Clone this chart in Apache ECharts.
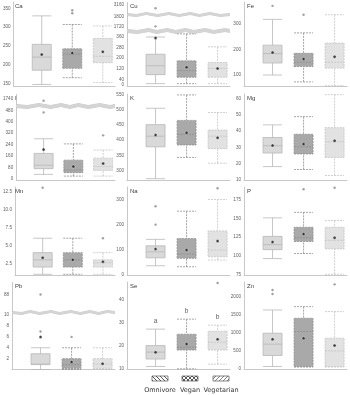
<!DOCTYPE html>
<html>
<head>
<meta charset="utf-8">
<script src="https://cdn.jsdelivr.net/npm/echarts@6.0.0/dist/echarts.min.js"></script>
<style>
  html, body { margin: 0; padding: 0; background: #fff; }
  #chart { width: 350px; height: 395px; }
</style>
</head>
<body>
<div id="chart"></div>
<script>
const groups = ['Omnivore', 'Vegan', 'Vegetarian'];

// box values: [min, Q1, median, Q3, max] for Omnivore, Vegan, Vegetarian
// outliers: [group (1..3), value]
const caBox = [[147, 185, 220, 254, 330], [165, 190, 228, 242, 307], [152, 205, 222, 270, 303]];
const caMean = [227, 231, 234];
const caOut = [[2, 345], [2, 337]];
const caTicks = [150, 200, 250, 300, 350];

const cuBox = [[11, 78, 144, 229, 357], [11, 59, 108, 180, 380], [11, 59, 124, 168, 284]];
const cuMean = [350, 132, 124];
const cuOut = [[1, 3134], [1, 1725]];
const cuTicks = [0, 40, 120, 200, 280, 360, 1720, 1800, 3160];

const feBox = [[100, 147, 184, 217, 318], [73, 133, 150, 185, 265], [58, 127, 150, 225, 336]];
const feMean = [188, 163, 172];
const feOut = [[1, 371], [2, 336]];
const feTicks = [100, 200, 300];

const iBox = [[31, 71, 95, 178, 281], [19, 43, 62, 131, 245], [19, 59, 86, 145, 202]];
const iMean = [205, 86, 107];
const iOut = [[1, 1728], [1, 466], [3, 305]];
const iTicks = [0, 80, 160, 240, 320, 400, 480, 1740];

const kBox = [[273, 378, 413, 451, 505], [343, 384, 419, 465, 549], [324, 372, 413, 433, 491]];
const kMean = [417, 424, 408];
const kOut = [];
const kTicks = [300, 350, 400, 450, 500, 550];

const mgBox = [[18.1, 26.5, 31, 36.1, 43.9], [16.3, 25.9, 30.4, 38.1, 49], [12.6, 23.8, 33.5, 42.2, 62.6]];
const mgMean = [31.2, 32, 34.1];
const mgOut = [];
const mgTicks = [10, 20, 30, 40, 50, 60];

const mnBox = [[1, 2, 3, 4, 6], [1, 2, 3, 4, 6], [1, 2, 2.6, 3, 4]];
const mnMean = [3.3, 3, 2.75];
const mnOut = [[1, 13], [3, 6]];
const mnTicks = [2.5, 5, 7.5, 10, 12.5];

const naBox = [[34, 66, 90, 114, 140], [30, 64, 81, 143, 253], [57, 70, 97, 174, 300]];
const naMean = [101, 97, 133];
const naOut = [[1, 273], [1, 199], [3, 345]];
const naTicks = [0, 100, 200, 300];

const pBox = [[96, 108, 114.7, 125.8, 150.6], [102.8, 119, 124, 138, 158], [75, 109, 120.5, 138, 147]];
const pMean = [118.2, 129, 124];
const pOut = [[2, 189], [3, 191]];
const pTicks = [75, 100, 125, 150, 175];

const pbBox = [[0, 0.9, 1, 2.9, 4], [0, 0.2, 0.9, 2, 4], [0, 0.2, 1, 2, 4]];
const pbMean = [6, 1.4, 1.08];
const pbOut = [[1, 88], [1, 7], [2, 6]];
const pbTicks = [2, 4, 6, 8, 10, 88];

const seBox = [[11.1, 14.3, 17.3, 20.1, 27.2], [10.1, 18.2, 19.4, 25, 31.5], [12.1, 18.2, 21.5, 26.3, 28.9]];
const seMean = [17.2, 20.8, 22.8];
const seOut = [[3, 47.1]];
const seTicks = [10, 20, 30, 40];
const seLetters = ['a', 'b', 'b'];

const znBox = [[74, 376, 687, 989, 1629], [64, 64, 1035, 1401, 1722], [64, 64, 503, 852, 1585]];
const znMean = [824, 852, 651];
const znOut = [[1, 2178], [1, 2068], [3, 2335]];
const znTicks = [0, 500, 1000, 1500, 2000];

const panels = [
  { name: 'Ca', box: caBox, mean: caMean, out: caOut, ticks: caTicks, min: 141.5, max: 367 },
  { name: 'Cu', box: cuBox, mean: cuMean, out: cuOut, ticks: cuTicks, min: -10, max: 3180,
    breaks: [{ start: 395, end: 1700 }, { start: 1805, end: 3095 }] },
  { name: 'Fe', box: feBox, mean: feMean, out: feOut, ticks: feTicks, min: 55, max: 386 },
  { name: 'I', box: iBox, mean: iMean, out: iOut, ticks: iTicks, min: -12, max: 1775,
    breaks: [{ start: 505, end: 1700 }] },
  { name: 'K', box: kBox, mean: kMean, out: kOut, ticks: kTicks, min: 267, max: 552 },
  { name: 'Mg', box: mgBox, mean: mgMean, out: mgOut, ticks: mgTicks, min: 9.5, max: 63 },
  { name: 'Mn', box: mnBox, mean: mnMean, out: mnOut, ticks: mnTicks, min: 0.9, max: 13.1, dec: 1 },
  { name: 'Na', box: naBox, mean: naMean, out: naOut, ticks: naTicks, min: -3, max: 350 },
  { name: 'P', box: pBox, mean: pMean, out: pOut, ticks: pTicks, min: 74, max: 192 },
  { name: 'Pb', box: pbBox, mean: pbMean, out: pbOut, ticks: pbTicks, min: 0, max: 90.3,
    breaks: [{ start: 10.4, end: 85 }] },
  { name: 'Se', box: seBox, mean: seMean, out: seOut, ticks: seTicks, min: 9.8, max: 47.5, letters: seLetters },
  { name: 'Zn', box: znBox, mean: znMean, out: znOut, ticks: znTicks, min: -10, max: 2400 }
];

const colLeft = [12, 127, 244];
const rowTop = [2, 94, 187, 282];
const rowBottom = [86.5, 180.5, 275, 369.5];
const plotW = 103;

const boxStyles = [
  { color: '#d9d9d9', borderColor: '#b8b8b8', borderWidth: 0.8 },
  { color: '#a9a9a9', borderColor: '#8e8e8e', borderWidth: 0.8, borderType: [2, 1] },
  { color: '#e2e2e2', borderColor: '#c4c4c4', borderWidth: 0.8, borderType: [2, 1] }
];

const grids = [], xAxes = [], yAxes = [], series = [], titles = [];

panels.forEach(function (p, i) {
  const col = i % 3, row = Math.floor(i / 3);
  grids.push({ left: colLeft[col], top: rowTop[row], width: plotW, height: rowBottom[row] - rowTop[row] });
  xAxes.push({
    gridIndex: i, type: 'value', min: 0.08, max: 3.4,
    axisLine: { show: true, onZero: false, lineStyle: { color: '#c8c8c8', width: 1 } },
    axisTick: { show: false }, axisLabel: { show: false }, splitLine: { show: false }
  });
  const y = {
    gridIndex: i, type: 'value', min: p.min, max: p.max,
    axisLine: { show: true, lineStyle: { color: '#c8c8c8', width: 1 } },
    axisTick: { show: false },
    splitLine: { show: false },
    axisLabel: {
      customValues: p.ticks, fontSize: 4.6, color: '#606060', margin: 3,
      fontFamily: 'Liberation Sans, Arial, sans-serif',
      formatter: function (v) { return p.dec ? v.toFixed(p.dec) : String(v); }
    }
  };
  if (p.breaks) {
    y.breaks = p.breaks.map(function (b) { return { start: b.start, end: b.end, gap: '2.5%' }; });
    y.breakArea = {
      show: true, expandOnClick: false,
      zigzagAmplitude: 1, zigzagMinSpan: 8, zigzagMaxSpan: 12,
      itemStyle: { color: '#d4d4d4', borderColor: '#a9a9a9', borderWidth: 0.6, borderType: 'solid', opacity: 1 }
    };
  }
  yAxes.push(y);

  titles.push({
    text: p.name, left: colLeft[col] + 3, top: rowTop[row] + 1, padding: 0,
    textStyle: { fontSize: 6, fontWeight: 'normal', color: '#404040', fontFamily: 'Liberation Sans, Arial, sans-serif' }
  });

  series.push({
    type: 'boxplot', xAxisIndex: i, yAxisIndex: i, boxWidth: [19, 19],
    data: p.box.map(function (b, k) {
      return { value: [k + 1].concat(b), itemStyle: boxStyles[k] };
    })
  });
  series.push({
    type: 'scatter', xAxisIndex: i, yAxisIndex: i, symbol: 'circle', symbolSize: 2.4,
    itemStyle: { color: '#8a8a8a' }, z: 3,
    data: p.out
  });
  series.push({
    type: 'scatter', xAxisIndex: i, yAxisIndex: i, symbol: 'circle', symbolSize: 3,
    itemStyle: { color: '#111', borderColor: '#fff', borderWidth: 0.4 }, z: 4,
    data: p.mean.map(function (m, k) { return [k + 1, m]; })
  });
  if (p.letters) {
    series.push({
      type: 'scatter', xAxisIndex: i, yAxisIndex: i, symbolSize: 0, z: 5,
      label: {
        show: true, position: 'top', distance: 4, fontSize: 6.5, color: '#333',
        fontFamily: 'Liberation Sans, Arial, sans-serif',
        formatter: function (d) { return p.letters[d.dataIndex]; }
      },
      data: p.box.map(function (b, k) { return [k + 1, b[4]]; })
    });
  }
});

function hatch(kind) {
  const c = document.createElement('canvas');
  c.width = 4; c.height = 4;
  const g = c.getContext('2d');
  g.fillStyle = '#fff'; g.fillRect(0, 0, 4, 4);
  g.strokeStyle = kind === 'fwd' ? '#777' : '#444';
  g.lineWidth = 0.9;
  g.beginPath();
  if (kind === 'back' || kind === 'cross') {
    g.moveTo(-1, -1); g.lineTo(5, 5); g.moveTo(-1, 3); g.lineTo(1, 5); g.moveTo(3, -1); g.lineTo(5, 1);
  }
  if (kind === 'fwd' || kind === 'cross') {
    g.moveTo(-1, 5); g.lineTo(5, -1); g.moveTo(-1, 1); g.lineTo(1, -1); g.moveTo(3, 5); g.lineTo(5, 3);
  }
  g.stroke();
  return c;
}

const legendX = [160, 190, 221];
const legendKinds = ['back', 'cross', 'fwd'];
const graphics = [];
groups.forEach(function (name, k) {
  graphics.push({
    type: 'rect', shape: { x: legendX[k] - 8, y: 376, width: 16, height: 5 },
    style: { fill: { image: hatch(legendKinds[k]), repeat: 'repeat' }, stroke: '#555', lineWidth: 0.7 }
  });
  graphics.push({
    type: 'text', x: legendX[k], y: 390,
    style: { text: name, fill: '#333', fontSize: 6.5, fontFamily: 'DejaVu Sans, sans-serif', align: 'center', verticalAlign: 'middle' }
  });
});

const chart = echarts.init(document.getElementById('chart'));
chart.setOption({
  animation: false,
  backgroundColor: '#fff',
  title: titles,
  grid: grids,
  xAxis: xAxes,
  yAxis: yAxes,
  series: series,
  graphic: graphics
});
</script>
</body>
</html>
